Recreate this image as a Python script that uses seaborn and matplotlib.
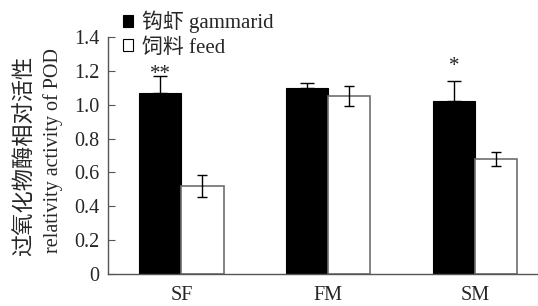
import numpy as np
import pandas as pd
import matplotlib
matplotlib.use('Agg')
import matplotlib.pyplot as plt
import seaborn as sns

groups = ['SF', 'FM', 'SM']
series = ['钩虾 gammarid', '饲料 feed']
gammarid = [1.07, 1.10, 1.02]
gammarid_err = [0.10, 0.03, 0.12]
feed = [0.52, 1.05, 0.68]
feed_err = [0.065, 0.06, 0.04]
marks = ['**', '', '*']

df = pd.DataFrame({
    'group': groups * 2,
    'series': [series[0]] * 3 + [series[1]] * 3,
    'value': gammarid + feed,
})

sns.set_style('white')
plt.rcParams['font.family'] = ['Liberation Serif', 'Noto Sans CJK SC']

fig = plt.figure(figsize=(5.38, 3.06), dpi=100)
ax = fig.add_axes([0.2007, 0.1046, 0.7993, 0.7745])

sns.barplot(data=df, x='group', y='value', hue='series', order=groups,
            hue_order=series, palette=['black', 'white'], width=0.575,
            gap=0, errorbar=None, saturation=1, ax=ax, zorder=2)

# star offsets above the error bar tops (baseline)
star_off = [-0.02, 0, 0.06]
bars = ax.patches[:6]
for i, p in enumerate(bars[:3]):
    p.set_edgecolor('black')
    p.set_linewidth(0.8)
    x = p.get_x() + p.get_width() / 2
    ax.errorbar(x, gammarid[i], yerr=[[0], [gammarid_err[i]]], fmt='none',
                ecolor='black', elinewidth=1, capsize=5, capthick=1, zorder=3)
    if marks[i]:
        ax.text(x, gammarid[i] + gammarid_err[i] + star_off[i], marks[i],
                ha='center', va='baseline', fontsize=15, color='#222222')
for i, p in enumerate(bars[3:6]):
    p.set_edgecolor('#6e6e6e')
    p.set_linewidth(1.2)
    x = p.get_x() + p.get_width() / 2
    ax.errorbar(x, feed[i], yerr=feed_err[i], fmt='none',
                ecolor='black', elinewidth=1, capsize=3.5, capthick=1, zorder=3)

ax.set_xlim(-0.5, 2.43)
ax.set_ylim(0, 1.4)
ax.set_yticks(np.arange(0, 1.41, 0.2))
ax.set_yticklabels(['0', '0.2', '0.4', '0.6', '0.8', '1.0', '1.2', '1.4'])
ax.set_xticks([0, 1, 2])
ax.set_xticklabels(groups)
ax.set_xticks([0.5, 1.5], minor=True)
ax.tick_params(axis='x', which='major', length=0, labelsize=14.5, pad=9)
ax.tick_params(axis='x', which='minor', direction='in', length=5, color='#555555')
ax.tick_params(axis='y', direction='in', length=5, labelsize=14.5, color='#555555',
               left=True, pad=6)
ax.set_xlabel('')
ax.set_ylabel('')
fig.text(0.047, 1 - 156 / 306, '过氧化物酶相对活性', rotation=90, fontsize=16,
         ha='center', va='center')
fig.text(0.099, 1 - 151 / 306, 'relativity activity of POD', rotation=90,
         fontsize=14.5, ha='center', va='center')
for s in ['top', 'right']:
    ax.spines[s].set_visible(False)
for s in ['left', 'bottom']:
    ax.spines[s].set_color('#555555')
    ax.spines[s].set_linewidth(1)

leg = ax.legend(loc='upper left', bbox_to_anchor=(0.016, 1.145), frameon=False,
                fontsize=15, handlelength=0.45, handleheight=0.45,
                handletextpad=0.45, labelspacing=0.22, borderaxespad=0)
for h in leg.legend_handles:
    h.set_edgecolor('black')
    h.set_linewidth(0.8)

fig.savefig('out.png', dpi=100)
